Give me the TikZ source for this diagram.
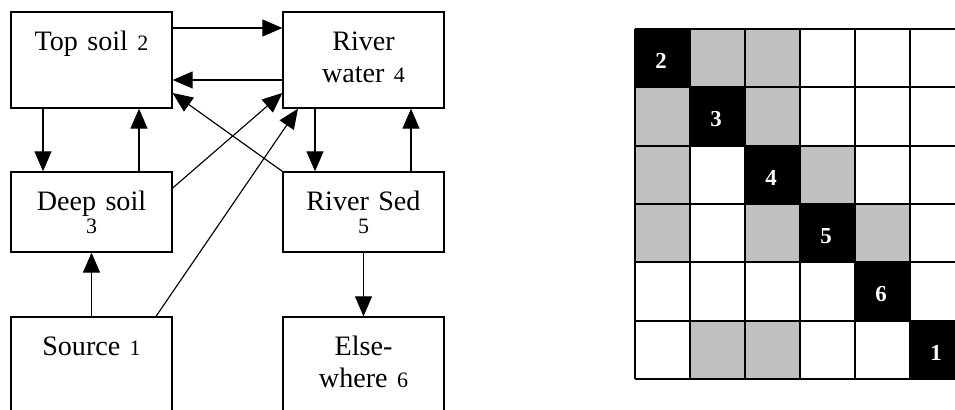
\documentclass[tikz,border=0pt]{standalone}
\usepackage{fontspec}
\setmainfont{Liberation Serif}
\usepackage{tikz}
\usetikzlibrary{arrows.meta}
\definecolor{cellk}{RGB}{0,0,0}
\definecolor{cellg}{RGB}{192,192,192}
\definecolor{cellw}{RGB}{255,255,255}
\newcommand{\cnum}[1]{{\fontsize{12.5}{14}\selectfont #1}}

\begin{document}
\begin{tikzpicture}[font=\fontsize{16}{18.4}\selectfont,
  comp/.style={draw, line width=0.75pt, inner sep=0pt, text width=3.22cm,
    align=center, text height=0.77cm},
  flow/.style={-{Triangle[length=0.4cm,width=0.34cm]}, line width=0.65pt},
  diag/.style={text=white, font=\fontsize{13}{15}\selectfont\bfseries}]
  \useasboundingbox (0,0) rectangle (19.1,8.2);
  % compartments
  \node[comp, text depth=1.15cm] (top) at (1.83,7.0) {Top soil \cnum{2}};
  \node[comp, text depth=1.15cm] (rw) at (7.27,7.0) {River\\water \cnum{4}};
  \node[comp, text depth=0.83cm] (deep) at (1.83,3.96) {Deep soil\\[-0.18cm]\cnum{3}};
  \node[comp, text depth=0.83cm] (sed) at (7.27,3.96) {River Sed\\[-0.18cm]\cnum{5}};
  \node[comp, text depth=1.15cm] (src) at (1.83,0.9) {Source \cnum{1}};
  \node[comp, text depth=1.15cm] (else) at (7.27,0.9) {Else-\\where \cnum{6}};
  % flows
  \draw[flow] ([yshift=0.64cm]top.east) -- ([yshift=0.64cm]rw.west);
  \draw[flow] ([yshift=-0.4cm]rw.west) -- ([yshift=-0.4cm]top.east);
  \draw[flow] ([xshift=-0.97cm]top.south) -- ([xshift=-0.97cm]deep.north);
  \draw[flow] ([xshift=0.95cm]deep.north) -- ([xshift=0.95cm]top.south);
  \draw[flow] ([yshift=0.48cm]deep.east) -- ([yshift=-0.66cm]rw.west);
  \draw[flow] ([xshift=1.29cm]src.north) -- ([xshift=-1.31cm]rw.south);
  \draw[flow] (sed.north west) -- ([yshift=-0.66cm]top.east);
  \draw[flow] ([xshift=-0.97cm]rw.south) -- ([xshift=-0.97cm]sed.north);
  \draw[flow] ([xshift=0.95cm]sed.north) -- ([xshift=0.95cm]rw.south);
  \draw[flow] (sed.south) -- (else.north);
  \draw[flow] (src.north) -- (deep.south);
  % matrix
  \foreach \r/\n/\cells in {0/2/{k,g,g,w,w,w}, 1/3/{g,k,g,w,w,w},
      2/4/{g,w,k,g,w,w}, 3/5/{g,w,g,k,g,w}, 4/6/{w,w,w,w,k,w},
      5/1/{w,g,g,w,w,k}} {
    \foreach \c [count=\j from 0] in \cells
      \fill[cell\c] ({12.7+1.1*\j},{7.62-1.1667*\r}) rectangle +(1.1,-1.1667);
    \node[diag] (d\n) at ({13.22+1.1*\r},{6.98-1.1667*\r}) {\n};
  }
  \draw[line width=1.1pt, xshift=12.7cm, yshift=0.62cm, xstep=1.1, ystep=1.1667]
    (0,0) grid (6.6,7.0);
\end{tikzpicture}
\end{document}
